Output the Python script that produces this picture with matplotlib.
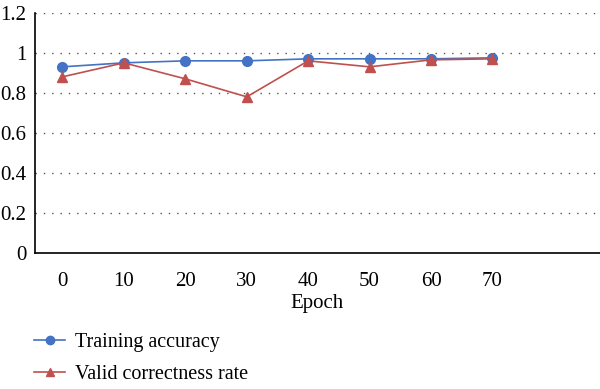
import matplotlib
matplotlib.use("Agg")
import matplotlib.pyplot as plt

epochs = ["0", "10", "20", "30", "40", "50", "60", "70"]
train_acc = [0.93, 0.95, 0.96, 0.96, 0.97, 0.97, 0.97, 0.975]
valid_rate = [0.88, 0.95, 0.87, 0.78, 0.96, 0.93, 0.965, 0.97]

plt.rcParams['font.family'] = ['Liberation Serif', 'DejaVu Serif']

fig = plt.figure(figsize=(6, 3.89), dpi=100)
ax = fig.add_axes([0.058, 0.35, 0.942, 0.617])

x = list(range(len(epochs)))
ax.plot(x, train_acc, '-o', color='#4472C4', lw=1.2, ms=7, label='Training accuracy', zorder=3)
ax.plot(x, valid_rate, '-^', color='#C0504D', lw=1.2, ms=7, label='Valid correctness rate', zorder=3)

ax.set_ylim(0, 1.2)
ax.set_yticks([0, 0.2, 0.4, 0.6, 0.8, 1.0, 1.2])
ax.set_yticklabels(['0', '0.2', '0.4', '0.6', '0.8', '1', '1.2'], fontsize=15)
ax.set_xlim(-0.45, 8.75)
ax.set_xticks(x)
ax.set_xticklabels(epochs, fontsize=15)
ax.tick_params(axis='x', length=0, pad=14)
ax.tick_params(axis='y', length=0, pad=6)
ax.set_xlabel('Epoch', fontsize=15, labelpad=2)

ax.grid(axis='y', linestyle=(0, (1, 5)), color='#555555', lw=1)
ax.set_axisbelow(True)
for s in ['top', 'right']:
    ax.spines[s].set_visible(False)
ax.spines['left'].set_color('black')
ax.spines['bottom'].set_color('black')
ax.spines['left'].set_linewidth(1.2)
ax.spines['bottom'].set_linewidth(1.2)

leg = ax.legend(loc='center left', bbox_to_anchor=(0.04, 0.078), bbox_transform=fig.transFigure,
                frameon=False, fontsize=14.5, handlelength=1.55, handletextpad=0.5,
                labelspacing=0.65, borderpad=0)
for h in leg.legend_handles:
    h.set_markersize(6)

fig.savefig('out.png', dpi=100)
